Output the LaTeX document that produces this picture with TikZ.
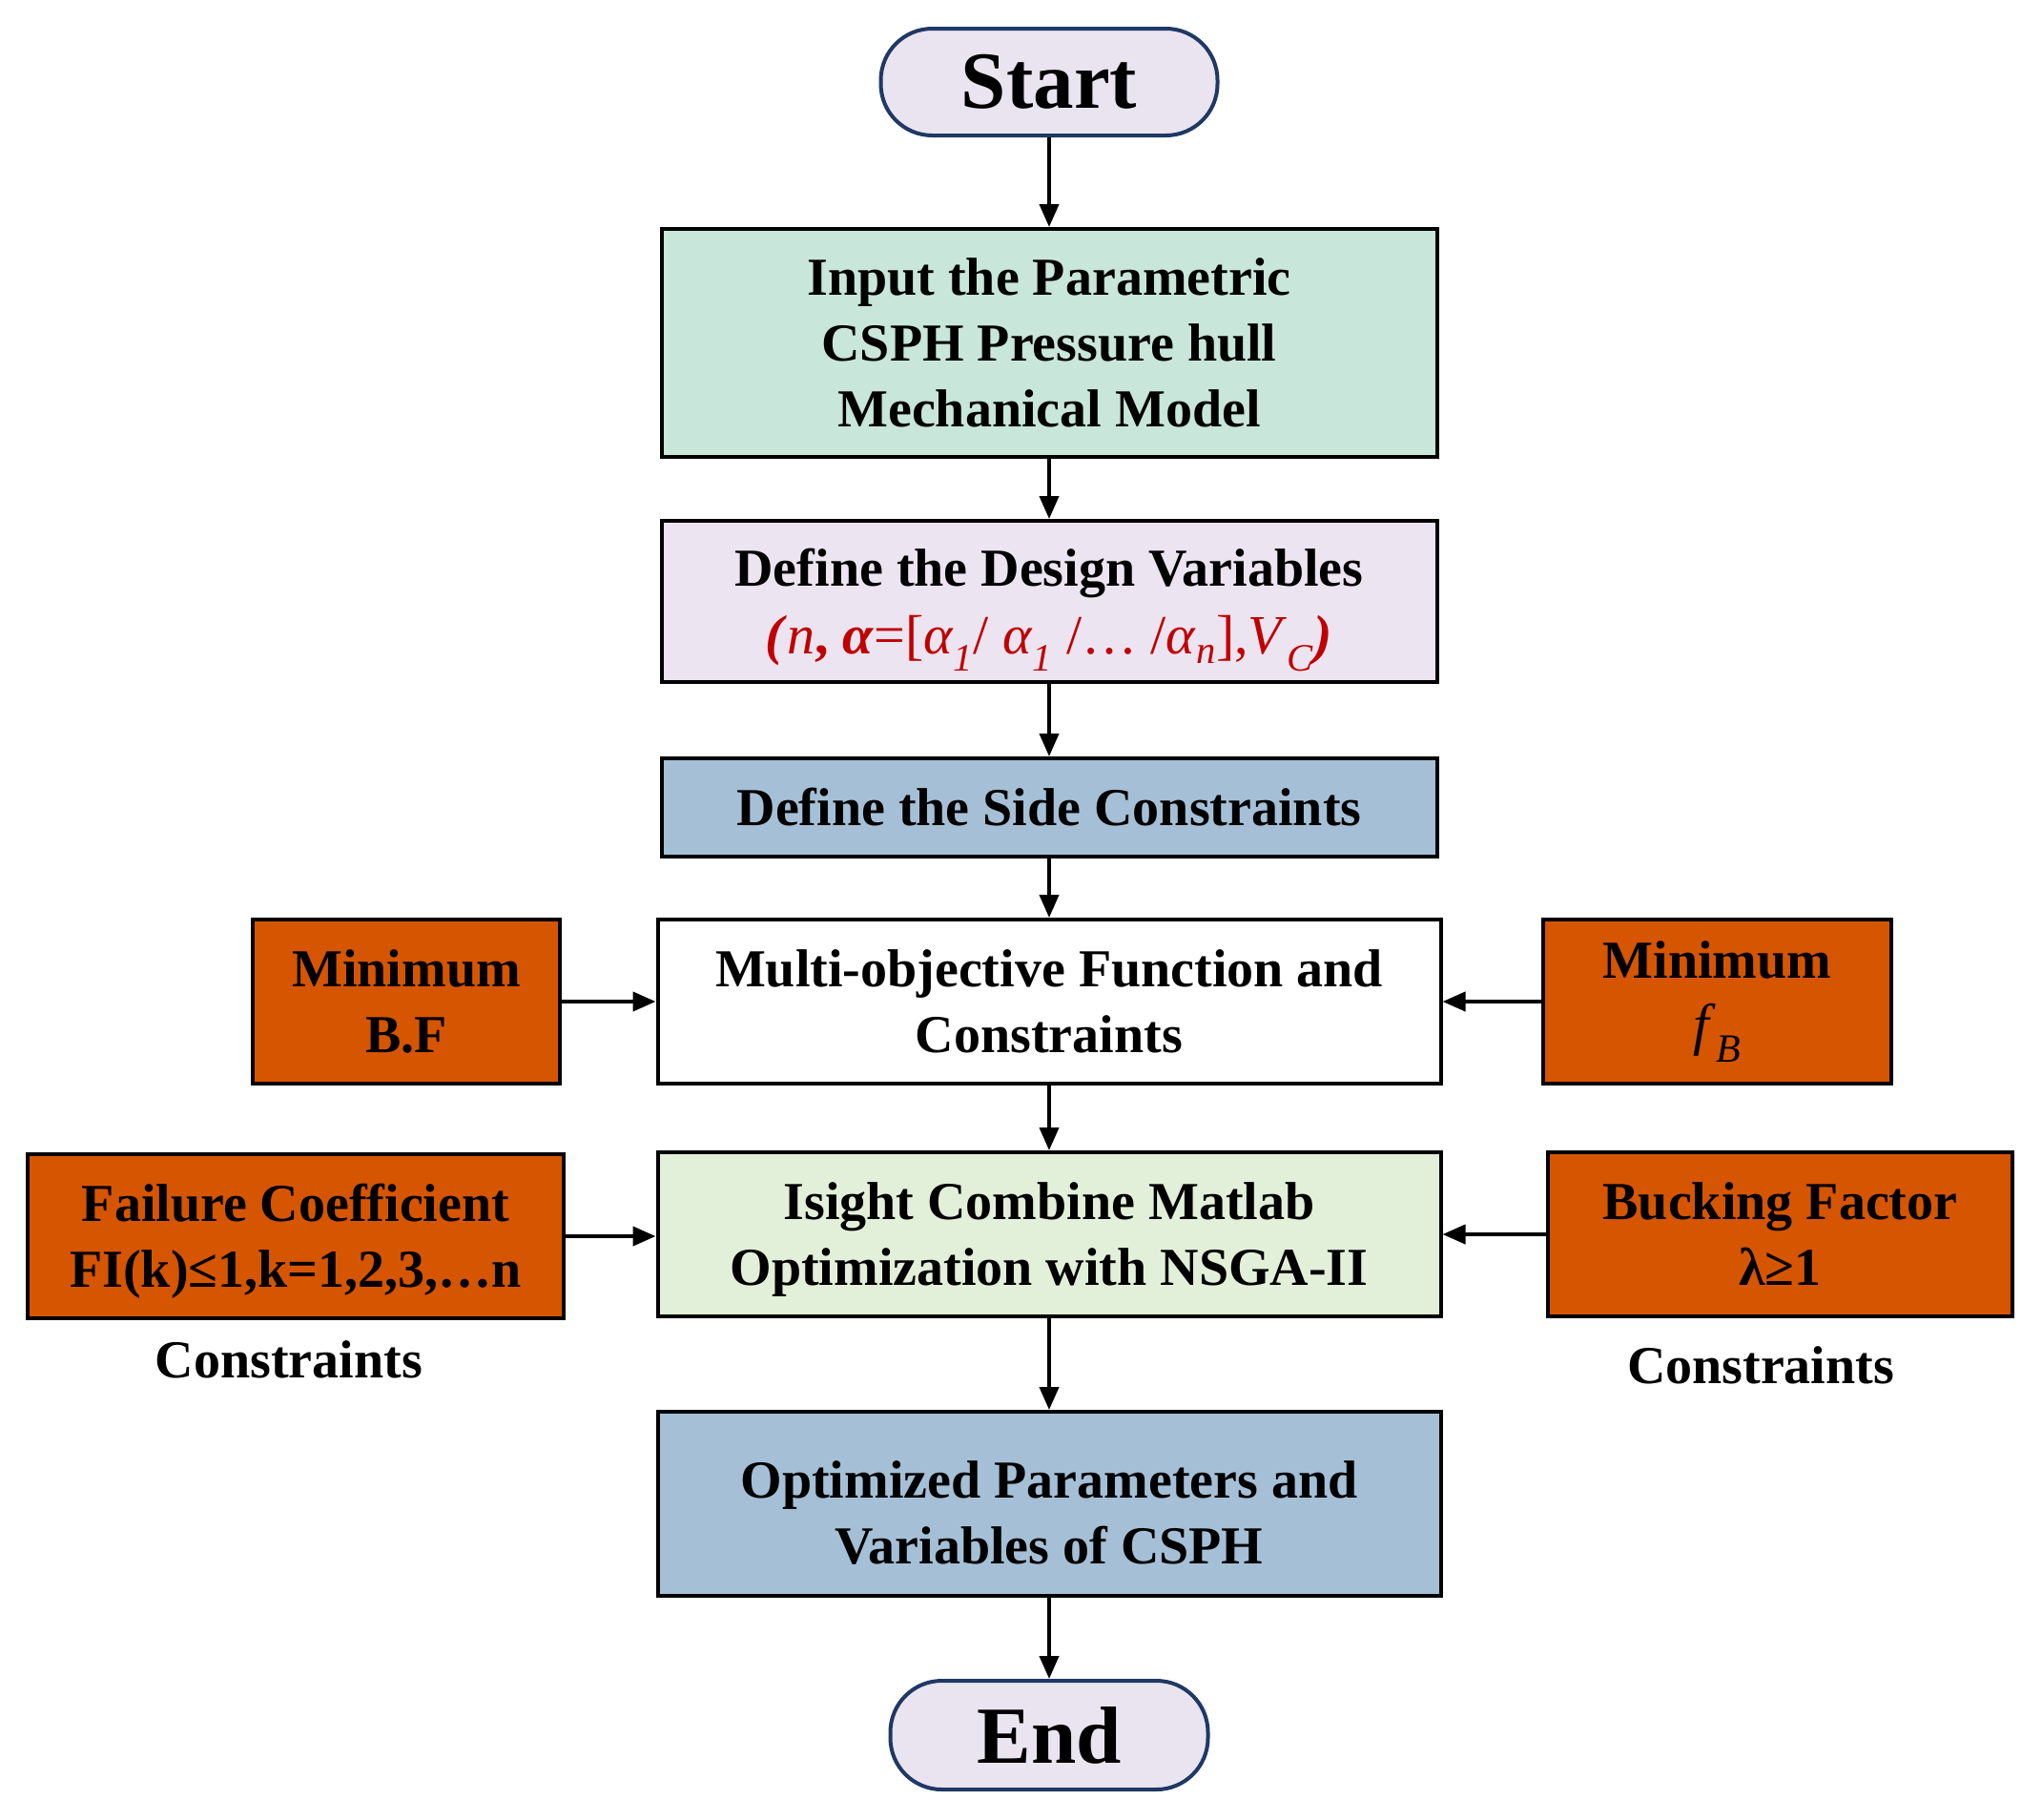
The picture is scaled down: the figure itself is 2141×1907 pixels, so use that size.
\documentclass[tikz,border=0pt]{standalone}
\usepackage{fontspec}
\setmainfont{Liberation Serif}
\usetikzlibrary{arrows.meta}
\definecolor{termfill}{HTML}{EAE4F0}
\definecolor{termdraw}{HTML}{1F3864}
\definecolor{mint}{HTML}{C8E6DA}
\definecolor{lav}{HTML}{ECE4F0}
\definecolor{steel}{HTML}{A5C0D6}
\definecolor{palegreen}{HTML}{E2EFD9}
\definecolor{orng}{HTML}{D65500}
\definecolor{varred}{HTML}{C00000}
\tikzset{
  box/.style={draw=black, line width=4pt, rectangle, align=center, inner sep=0pt,
    font=\fontsize{56}{69}\selectfont\bfseries},
  txt/.style={align=center, inner sep=0pt, font=\fontsize{56}{69}\selectfont\bfseries},
  term/.style={draw=termdraw, fill=termfill, line width=4pt, rounded corners=54pt,
    minimum width=353pt, minimum height=112pt, inner sep=0pt, font=\fontsize{85}{85}\selectfont\bfseries},
  side/.style={box, fill=orng},
  lab/.style={font=\fontsize{56}{69}\selectfont\bfseries, inner sep=0pt},
  arr/.style={-{Triangle[length=24pt,width=20pt]}, line width=4pt},
}
\begin{document}
\begin{tikzpicture}[x=1pt,y=-1pt]
\useasboundingbox (0,0) rectangle (2141,1907);
\node[term] (start) at (1100,86) {Start};
\node[box, fill=mint, minimum width=813pt, minimum height=239pt] (input) at (1100,359.5)
  {Input the Parametric\\CSPH Pressure hull\\Mechanical Model};
\node[box, fill=lav, minimum width=813pt, minimum height=169pt,
  label={[txt, yshift=-9pt]center:{Define the Design Variables\\[2pt]
   {\color{varred}\fontsize{58}{69}\selectfont\mdseries\textbf{\textit{(}}\textit{n}\textbf{, \textit{α}}=[\textit{α}\textsubscript{\textit{1}}/ \textit{α}\textsubscript{\textit{1}} /… /\textit{α}\textsubscript{\textit{n}}],\textit{V}\textsubscript{\textit{C}}\textbf{\textit{)}}}}}] (design) at (1100,630.5) {};
\node[box, fill=steel, minimum width=813pt, minimum height=103pt] (sidec) at (1100,846.5)
  {Define the Side Constraints};
\node[box, fill=white, minimum width=821pt, minimum height=172pt] (multi) at (1100,1050)
  {Multi-objective Function and\\Constraints};
\node[side, minimum width=322pt, minimum height=172pt] (bf) at (426,1050)
  {Minimum\\B.F};
\node[side, minimum width=365pt, minimum height=172pt] (fb) at (1800.5,1050)
  {Minimum\\{\mdseries\fontsize{60}{69}\selectfont\textit{f}\textsubscript{\textit{B}}}};
\node[box, fill=palegreen, minimum width=821pt, minimum height=172pt,
  label={[txt, yshift=-6pt]center:{Isight Combine Matlab\\Optimization with NSGA-II}}] (isight) at (1100,1294) {};
\node[side, minimum width=562pt, minimum height=172pt,
  label={[txt, yshift=-5pt]center:{Failure Coefficient\\FI(k)≤1,k=1,2,3,…n}}] (fail) at (310,1296) {};
\node[side, minimum width=487pt, minimum height=172pt] (buck) at (1866.5,1294)
  {Bucking Factor\\λ≥1};
\node[lab] (cl) at (303,1425) {Constraints};
\node[lab] (cr) at (1846,1431) {Constraints};
\node[box, fill=steel, minimum width=821pt, minimum height=193pt,
  label={[txt, yshift=-9pt]center:{Optimized Parameters and\\Variables of CSPH}}] (opt) at (1100,1576.5) {};
\node[term, minimum width=333pt, minimum height=114pt] (end) at (1100,1819) {End};
\draw[arr] (start) -- (input);
\draw[arr] (input) -- (design);
\draw[arr] (design) -- (sidec);
\draw[arr] (sidec) -- (multi);
\draw[arr] (multi) -- (isight);
\draw[arr] (isight) -- (opt);
\draw[arr] (opt) -- (end);
\draw[arr] (bf) -- (multi);
\draw[arr] (fb) -- (multi);
\draw[arr] (fail.east) -- (fail.east -| isight.west);
\draw[arr] (buck) -- (isight);
\end{tikzpicture}
\end{document}
